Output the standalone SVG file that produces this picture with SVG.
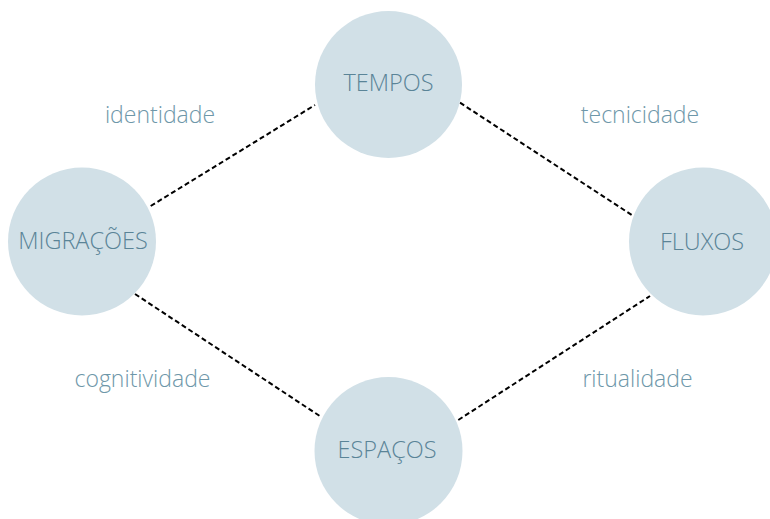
<svg xmlns="http://www.w3.org/2000/svg" width="770" height="519" viewBox="0 0 770 519">
<style>
.node circle{fill:#d1e0e7}
.node text{font-family:"Open Sans","Liberation Sans",sans-serif;font-weight:300;font-size:23.5px;fill:#5a8497;text-anchor:middle}
.lbl{font-family:"Open Sans","Liberation Sans",sans-serif;font-weight:300;font-size:23px;fill:#6e97a9;text-anchor:middle}
.conn line{stroke:#000;stroke-width:2;stroke-dasharray:5 3;fill:none}
</style>
<rect width="770" height="519" fill="#fff"/>
<g id="connectors" class="conn">
<line x1="150.7" y1="206" x2="315" y2="105"/>
<line x1="460" y1="102.7" x2="633.3" y2="216"/>
<line x1="135" y1="294" x2="321.7" y2="417.3"/>
<line x1="458.3" y1="420" x2="650" y2="296"/>
</g>
<g id="tempos" class="node"><circle cx="388.5" cy="84.5" r="73.5"/><text x="388.5" y="91">TEMPOS</text></g>
<g id="migracoes" class="node"><circle cx="82" cy="241.5" r="74"/><text x="83" y="248.5">MIGRAÇÕES</text></g>
<g id="fluxos" class="node"><circle cx="703" cy="241.5" r="74"/><text x="702" y="249.5">FLUXOS</text></g>
<g id="espacos" class="node"><circle cx="388.5" cy="451" r="74"/><text x="387" y="457.5">ESPAÇOS</text></g>
<g id="labels">
<text class="lbl" x="160" y="122.5">identidade</text>
<text class="lbl" x="640" y="123">tecnicidade</text>
<text class="lbl" x="142.5" y="386.5">cognitividade</text>
<text class="lbl" x="637.5" y="386.5">ritualidade</text>
</g>
</svg>
